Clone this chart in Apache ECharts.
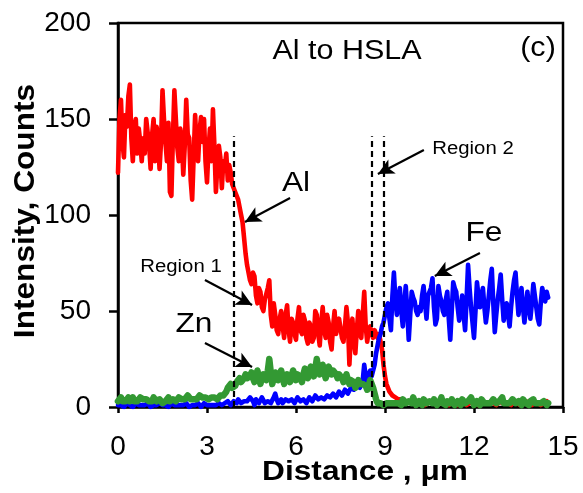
<!DOCTYPE html>
<html>
<head>
<meta charset="utf-8">
<script src="https://cdn.jsdelivr.net/npm/echarts@6/dist/echarts.min.js"></script>
<style>
  html, body { margin: 0; padding: 0; background: #fff; }
  #chart { width: 583px; height: 493px; }
</style>
</head>
<body>
<div id="chart"></div>
<script>
// EDS line scan: one reading every 0.05 µm from 0 to 14.5 µm.
// Each row below holds the readings of one micrometre (20 values).
const scanStep = 0.05;

// Al intensity (counts)
const alCounts = [
  122,150,160,138,130,152,146,162,168,140,128,146,150,132,145,138,128,140,132,150,
  150,136,124,142,150,128,146,140,124,138,165,150,138,128,148,112,110,140,165,150,
  135,128,145,140,121,136,160,142,140,118,108,130,152,136,128,144,151,138,150,128,
  117,134,145,128,155,136,112,126,136,130,114,128,125,132,118,126,122,116,116,112,
  112,108,104,100,96,88,80,74,70,66,64,70,68,58,54,62,60,52,50,56,
  57,62,66,48,42,54,48,40,38,46,50,42,36,48,53,40,34,46,44,38,
  35,46,52,40,38,48,45,36,33,44,42,34,36,50,48,38,32,44,52,40,
  36,48,44,34,30,42,50,38,38,46,46,36,34,42,52,44,22,38,46,34,
  28,40,50,38,36,48,60,42,34,40,42,38,36,40,40,36,38,34,30,22,
  16,12,10,8,7,6,5,5,4,4,3,4,3,3,4,3,2,3,3,2,
  2,2,1,3,3,2,2,1,1,2,2,3,3,2,2,1,1,2,2,3,
  4,2,2,1,1,3,3,2,2,1,1,2,2,3,3,1,1,2,2,3,
  4,3,2,1,1,3,3,2,2,2,1,2,3,2,2,1,1,3,2,2,
  1,2,3,2,2,1,1,3,3,2,2,1,1,2,2,3,3,2,2,1,
  1,2,3,2,2,1,1,2,2,3,2
];

// Fe intensity (counts)
const feCounts = [
  1,2,1,1,0,1,2,1,1,2,0,1,2,1,1,0,1,2,1,1,
  2,1,0,1,1,2,1,0,2,1,1,2,1,1,0,1,2,1,1,2,
  1,0,1,2,1,1,2,1,0,1,1,2,1,1,2,1,0,1,2,1,
  1,2,1,0,1,2,1,1,2,1,1,0,2,1,3,2,1,2,3,4,
  2,4,5,2,1,3,4,3,2,5,6,3,1,4,4,2,3,5,5,2,
  1,3,4,2,2,5,7,4,2,3,4,2,1,4,5,3,3,4,4,2,
  2,5,6,3,3,4,4,2,2,5,5,3,3,6,7,4,3,5,5,4,
  4,6,7,5,4,7,8,5,5,8,9,6,6,9,10,7,7,10,11,9,
  9,11,12,10,10,14,22,16,13,17,19,16,17,22,28,32,36,38,42,44,
  48,52,54,46,40,58,70,56,48,56,62,50,42,54,63,50,35,48,60,57,
  55,50,48,52,50,58,63,54,46,58,60,62,67,52,43,46,63,58,55,50,
  48,56,60,46,35,50,65,62,60,52,45,50,58,48,40,56,74,62,52,44,
  36,50,65,58,52,58,62,52,44,50,58,66,72,54,39,48,56,62,69,56,
  45,50,54,48,42,52,60,66,70,58,48,56,62,52,44,52,60,52,46,54,
  64,58,52,46,43,54,62,58,55,60,57
];

// Zn intensity (counts)
const znCounts = [
  3,4,5,3,2,3,4,5,3,4,5,3,2,3,4,5,6,4,3,4,
  4,3,2,3,5,4,3,2,4,5,2,3,3,4,5,3,2,4,4,3,
  3,5,5,4,3,4,4,6,6,4,3,4,5,4,4,6,7,5,4,5,
  5,4,3,5,6,5,5,4,4,6,7,6,6,8,10,11,12,10,9,11,
  13,14,15,13,12,15,17,15,14,16,18,15,13,16,19,15,12,15,17,16,
  14,19,25,18,12,15,18,16,14,17,19,16,12,15,17,15,13,16,19,17,
  14,17,18,15,13,17,20,17,15,18,21,18,16,20,25,20,17,19,22,18,
  15,18,21,19,17,19,20,17,15,17,18,15,13,15,17,14,12,14,15,13,
  10,12,14,12,11,12,13,11,9,11,14,12,10,7,4,2,1,2,2,1,
  1,2,3,2,1,2,1,2,3,2,2,1,4,3,2,1,3,2,2,5,
  3,1,2,3,2,1,4,3,2,1,3,2,2,4,3,1,2,3,5,2,
  2,1,3,2,2,4,3,1,2,3,2,1,4,3,2,1,3,2,5,3,
  1,2,3,2,1,4,3,2,1,2,3,2,1,4,3,2,1,3,2,5,
  2,1,2,3,2,1,4,3,2,1,3,2,1,4,3,2,2,1,3,2,
  4,2,1,2,3,2,1,3,2,1,2
];

const xTicks = { min: 0, max: 15, step: 3 };
const yTicks = { min: 0, max: 200, step: 50 };

// Boundary markers (µm) and their height (counts)
const boundaries = [3.9, 8.55, 8.95];
const boundaryTop = 141;

// Callout arrows: [tail, head] in data units
const arrows = [
  [[5.80, 108.9], [4.28, 96.4]],   // Al
  [[2.93, 66.1], [4.52, 53.1]],    // Region 1
  [[2.93, 33.3], [4.52, 20.8]],    // Zn
  [[10.31, 133.9], [8.76, 121.4]], // Region 2
  [[12.20, 80.2], [10.68, 68.2]]   // Fe
];

const pairs = (vals) => vals.map((v, i) => [+(i * scanStep).toFixed(2), v]);

const FONT = "'Liberation Sans', Arial, sans-serif";
const SX = 1.13; // horizontal text stretch

function label(text, x, y, size, weight, extra) {
  return Object.assign({
    type: 'text', x: x, y: y, scaleX: SX, silent: true,
    style: {
      text: text, fill: '#000', align: 'center', verticalAlign: 'middle',
      font: (weight || 'normal') + ' ' + size + 'px ' + FONT
    }
  }, extra || {});
}

const chart = echarts.init(document.getElementById('chart'), null, { renderer: 'canvas' });

const markLineData = [];
boundaries.forEach(b => {
  markLineData.push([
    { coord: [b, 0], symbol: 'none', lineStyle: { type: [6, 4], width: 2.2, color: '#000' } },
    { coord: [b, boundaryTop], symbol: 'none' }
  ]);
});
arrows.forEach(a => {
  markLineData.push([
    { coord: a[0], symbol: 'none', lineStyle: { type: 'solid', width: 2.2, color: '#000' } },
    { coord: a[1], symbol: 'arrow', symbolSize: [12, 16] }
  ]);
});

chart.setOption({
  animation: false,
  backgroundColor: '#fff',
  grid: {
    left: 118, right: 20, top: 23, bottom: 86,
    show: true, borderColor: '#000', borderWidth: 2.5, backgroundColor: 'transparent'
  },
  xAxis: {
    type: 'value', min: xTicks.min, max: xTicks.max, interval: xTicks.step,
    axisLine: { show: true, onZero: false, lineStyle: { color: '#000', width: 2.5 } },
    axisTick: { show: true, inside: false, length: 6, lineStyle: { color: '#000', width: 2.5 } },
    axisLabel: { margin: 26, color: '#000', fontSize: 28, fontFamily: FONT },
    splitLine: { show: false }
  },
  yAxis: {
    type: 'value', min: yTicks.min, max: yTicks.max, interval: yTicks.step,
    axisLine: { show: true, lineStyle: { color: '#000', width: 2.5 } },
    axisTick: { show: true, inside: false, length: 9, lineStyle: { color: '#000', width: 2.5 } },
    axisLabel: { margin: 27, color: '#000', fontSize: 28, fontFamily: FONT },
    splitLine: { show: false }
  },
  series: [
    {
      name: 'Al', type: 'line', data: pairs(alCounts), showSymbol: false,
      lineStyle: { color: '#ff0000', width: 4.6, join: 'round', cap: 'round' }, z: 2
    },
    {
      name: 'Fe', type: 'line', data: pairs(feCounts), showSymbol: false,
      lineStyle: { color: '#0000ff', width: 4.6, join: 'round', cap: 'round' }, z: 3
    },
    {
      name: 'Zn', type: 'line', data: pairs(znCounts), showSymbol: false,
      lineStyle: { color: '#339933', width: 6.5, join: 'round', cap: 'round' }, z: 4
    },
    {
      name: 'markers', type: 'line', data: [], z: 5,
      markLine: { silent: true, animation: false, label: { show: false }, data: markLineData }
    }
  ],
  graphic: [
    label('Al to HSLA', 347, 52, 27),
    label('(c)', 538, 49, 27),
    label('Al', 296, 183, 28),
    label('Fe', 484, 233, 28),
    label('Zn', 194, 324, 28),
    label('Region 1', 181, 267, 18),
    label('Region 2', 473, 149, 18),
    label('Distance , μm', 365, 472, 28, 'bold'),
    label('Intensity, Counts', 26, 211, 28, 'bold', { rotation: Math.PI / 2, scaleX: 1.13, scaleY: 1.05 })
  ]
});
</script>
</body>
</html>
